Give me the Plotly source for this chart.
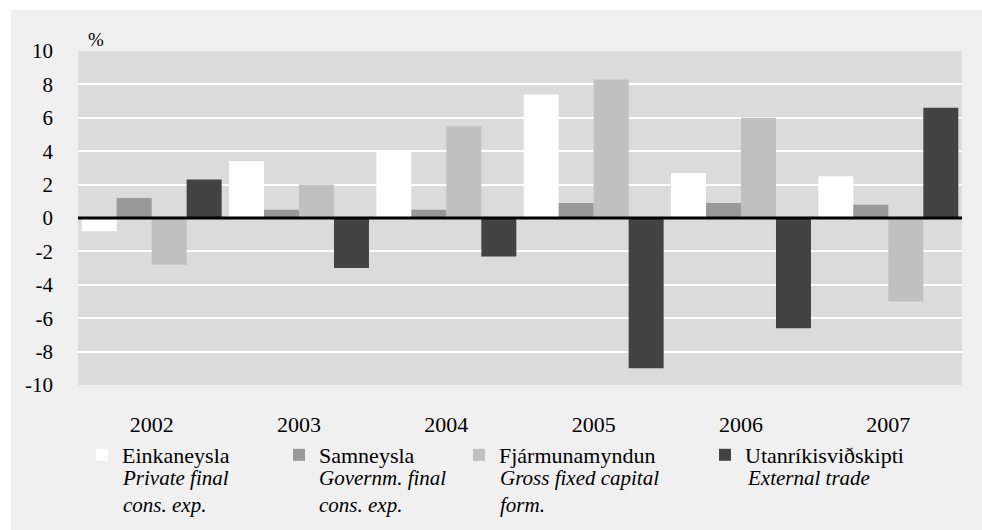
import plotly.graph_objects as go

years = ["2002", "2003", "2004", "2005", "2006", "2007"]
einkaneysla = [-0.8, 3.4, 4.0, 7.4, 2.7, 2.5]
samneysla = [1.2, 0.5, 0.5, 0.9, 0.9, 0.8]
fjarmunamyndun = [-2.8, 2.0, 5.5, 8.3, 6.0, -5.0]
utanrikis = [2.3, -3.0, -2.3, -9.0, -6.6, 6.6]

ytick_vals = [-10, -8, -6, -4, -2, 0, 2, 4, 6, 8, 10]
ytick_labels = ["-10", "-8", "-6", "-4", "-2", "0", "2", "4", "6", "8", "10"]

names_is = ["Einkaneysla", "Samneysla", "Fjármunamyndun", "Utanríkisviðskipti"]
names_en = [["Private final", "cons. exp."], ["Governm. final", "cons. exp."],
            ["Gross fixed capital", "form."], ["External trade"]]
colors = ["#ffffff", "#999999", "#c0c0c0", "#434343"]
series = [einkaneysla, samneysla, fjarmunamyndun, utanrikis]

W, H = 982, 530
L, R, T, B = 78, 20, 51, 145
PW, PH = W - L - R, H - T - B


def px(x):
    return (x - L) / PW


def py(y):
    return (H - B - y) / PH


FONT = "Liberation Serif"
FS = 22

fig = go.Figure()
legend_keys = ["legend", "legend2", "legend3", "legend4"]
for vals, name, col, lg in zip(series, names_is, colors, legend_keys):
    fig.add_trace(go.Bar(x=years, y=vals, name=name, marker=dict(color=col, line=dict(width=0)),
                         legend=lg, showlegend=True))

text_x = [122, 319, 499, 745]
legend_cfg = {}
for lg, tx in zip(legend_keys, text_x):
    legend_cfg[lg] = dict(x=px(tx - 40), xanchor="left", y=py(434), yanchor="top",
                          bgcolor="rgba(0,0,0,0)", borderwidth=0, visible=True,
                          font=dict(family=FONT, size=FS, color="black"))

annotations = [dict(text="%", x=px(86), y=py(40), xref="paper", yref="paper", xanchor="left",
                    yanchor="middle", showarrow=False, font=dict(family=FONT, size=FS - 3, color="black"))]
sub_x = [122, 319, 500, 747]
for en, sx in zip(names_en, sub_x):
    annotations.append(dict(text="<br>".join("<i>" + s + "</i>" for s in en), x=px(sx - 1),
                            y=py(465), xref="paper", yref="paper", xanchor="left", yanchor="top",
                            align="left", showarrow=False, borderpad=0,
                            font=dict(family=FONT, size=FS - 1, color="black")))

shapes = [
    dict(type="rect", xref="paper", yref="paper", x0=px(0), x1=px(W), y0=py(10), y1=py(0),
         fillcolor="white", line=dict(width=0), layer="below"),
    dict(type="rect", xref="paper", yref="paper", x0=px(0), x1=px(11), y0=py(H), y1=py(0),
         fillcolor="white", line=dict(width=0), layer="below"),
    dict(type="line", xref="paper", yref="y", x0=0, x1=1, y0=0, y1=0,
         line=dict(color="black", width=3), layer="above"),
]

fig.update_layout(
    width=W, height=H,
    margin=dict(l=L, r=R, t=T, b=B, pad=0),
    paper_bgcolor="#f0f0f0", plot_bgcolor="#dbdbdb",
    barmode="group", bargap=0.05, bargroupgap=0,
    showlegend=True,
    font=dict(family=FONT, size=FS, color="black"),
    xaxis=dict(showgrid=False, zeroline=False, showline=False, ticks="",
               ticklabelstandoff=24, tickfont=dict(family=FONT, size=FS, color="black")),
    yaxis=dict(range=[-10, 10], tickmode="array", tickvals=ytick_vals, ticktext=ytick_labels,
               showgrid=True, gridcolor="white", gridwidth=2,
               zeroline=False, showline=False, ticks="", ticklabelstandoff=24,
               tickfont=dict(family=FONT, size=FS - 1, color="black")),
    annotations=annotations, shapes=shapes,
    **legend_cfg,
)

fig.write_html("out.html", config={"displayModeBar": False},
               post_script="document.body.style.margin='0px';document.body.style.padding='0px';")
